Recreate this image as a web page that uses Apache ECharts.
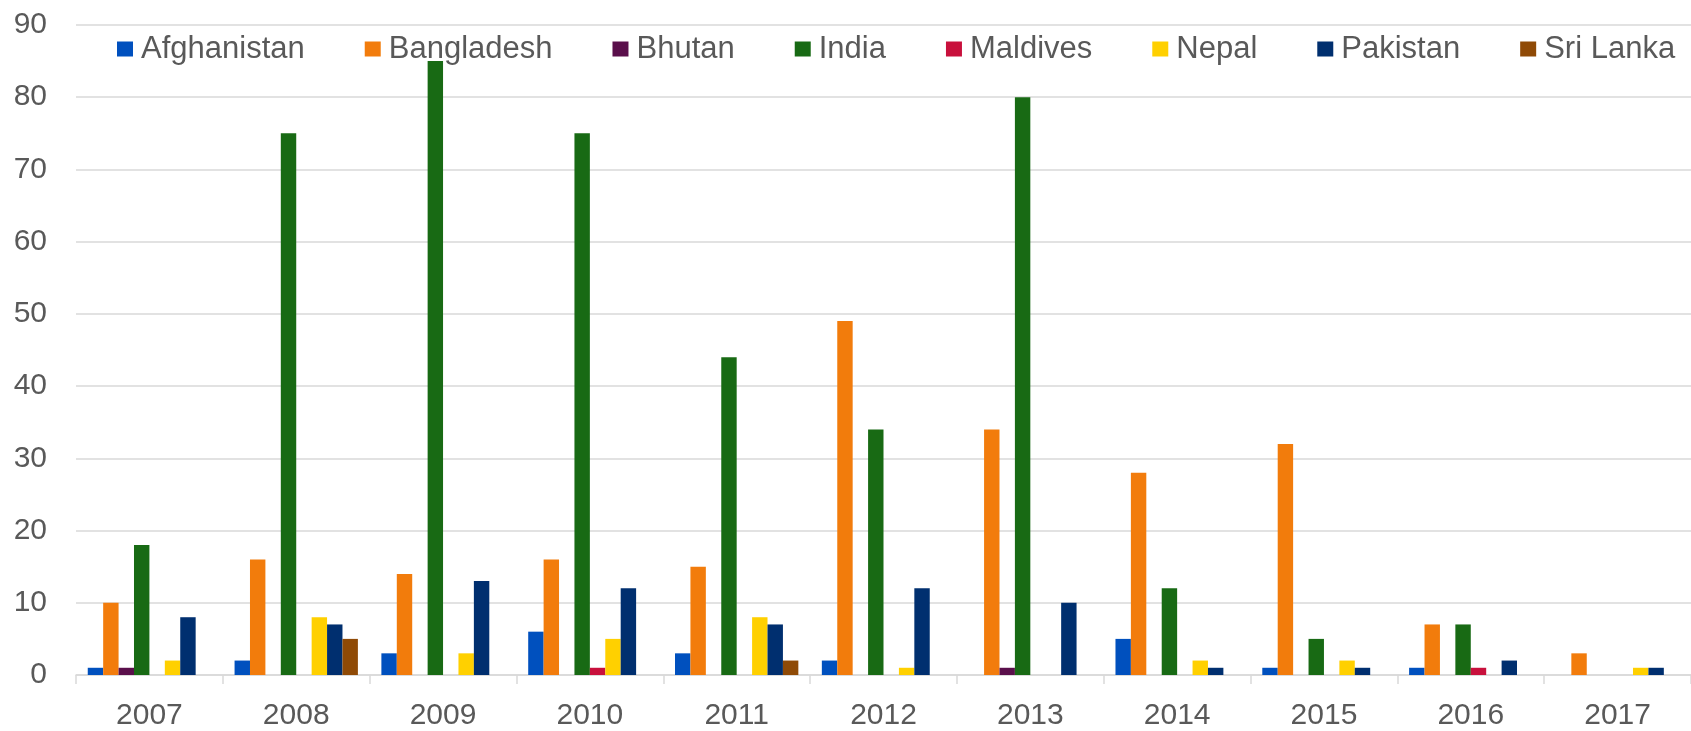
<!DOCTYPE html>
<html>
<head>
<meta charset="utf-8">
<script src="https://cdn.jsdelivr.net/npm/echarts@6/dist/echarts.min.js"></script>
<style>
  html, body { margin: 0; padding: 0; background: #fff; }
  #chart { width: 1691px; height: 731px; }
</style>
</head>
<body>
<div id="chart"></div>
<script>
// years on the x axis
var years = ['2007', '2008', '2009', '2010', '2011', '2012', '2013', '2014', '2015', '2016', '2017'];

// one array per country
var afghanistan = [1, 2, 3, 6, 3, 2, 0, 5, 1, 1, 0];
var bangladesh  = [10, 16, 14, 16, 15, 49, 34, 28, 32, 7, 3];
var bhutan      = [1, 0, 0, 0, 0, 0, 1, 0, 0, 0, 0];
var india       = [18, 75, 85, 75, 44, 34, 80, 12, 5, 7, 0];
var maldives    = [0, 0, 0, 1, 0, 0, 0, 0, 0, 1, 0];
var nepal       = [2, 8, 3, 5, 8, 1, 0, 2, 2, 0, 1];
var pakistan    = [8, 7, 13, 12, 7, 12, 10, 1, 1, 2, 1];
var sriLanka    = [0, 5, 0, 0, 2, 0, 0, 0, 0, 0, 0];

var countries = ['Afghanistan', 'Bangladesh', 'Bhutan', 'India', 'Maldives', 'Nepal', 'Pakistan', 'Sri Lanka'];
var values = [afghanistan, bangladesh, bhutan, india, maldives, nepal, pakistan, sriLanka];
var colors = ['#0050be', '#f27c0c', '#5a0f4b', '#186a14', '#c8103c', '#ffd000', '#002f6f', '#8f4a06'];

var chart = echarts.init(document.getElementById('chart'));

var series = countries.map(function (name, i) {
  return {
    name: name,
    type: 'bar',
    barGap: 0,
    barCategoryGap: '16%',
    itemStyle: { color: colors[i] },
    data: values[i]
  };
});

var option = {
  animation: false,
  color: colors,
  textStyle: { fontFamily: 'Liberation Sans, Arial, sans-serif' },
  legend: {
    left: 112,
    top: 28,
    itemWidth: 16,
    itemHeight: 15,
    itemGap: 60,
    icon: 'rect',
    textStyle: {
      fontSize: 31,
      color: '#595959',
      lineHeight: 32,
      padding: [0, 0, 0, 3]
    },
    data: countries
  },
  grid: {
    left: 76,
    right: -10,
    top: 25,
    bottom: 52
  },
  xAxis: {
    type: 'category',
    data: years,
    axisLine: { lineStyle: { color: '#d9d9d9', width: 1.5 } },
    axisTick: { show: true, length: 9, lineStyle: { color: '#d9d9d9', width: 1.5 } },
    axisLabel: { fontSize: 30, color: '#595959', margin: 26 }
  },
  yAxis: {
    type: 'value',
    min: 0,
    max: 90,
    interval: 10,
    axisLine: { show: false },
    axisTick: { show: false },
    axisLabel: { fontSize: 30, color: '#595959', margin: 29 },
    splitLine: { lineStyle: { color: '#d9d9d9', width: 1.5 } }
  },
  series: series
};

chart.setOption(option);
</script>
</body>
</html>
